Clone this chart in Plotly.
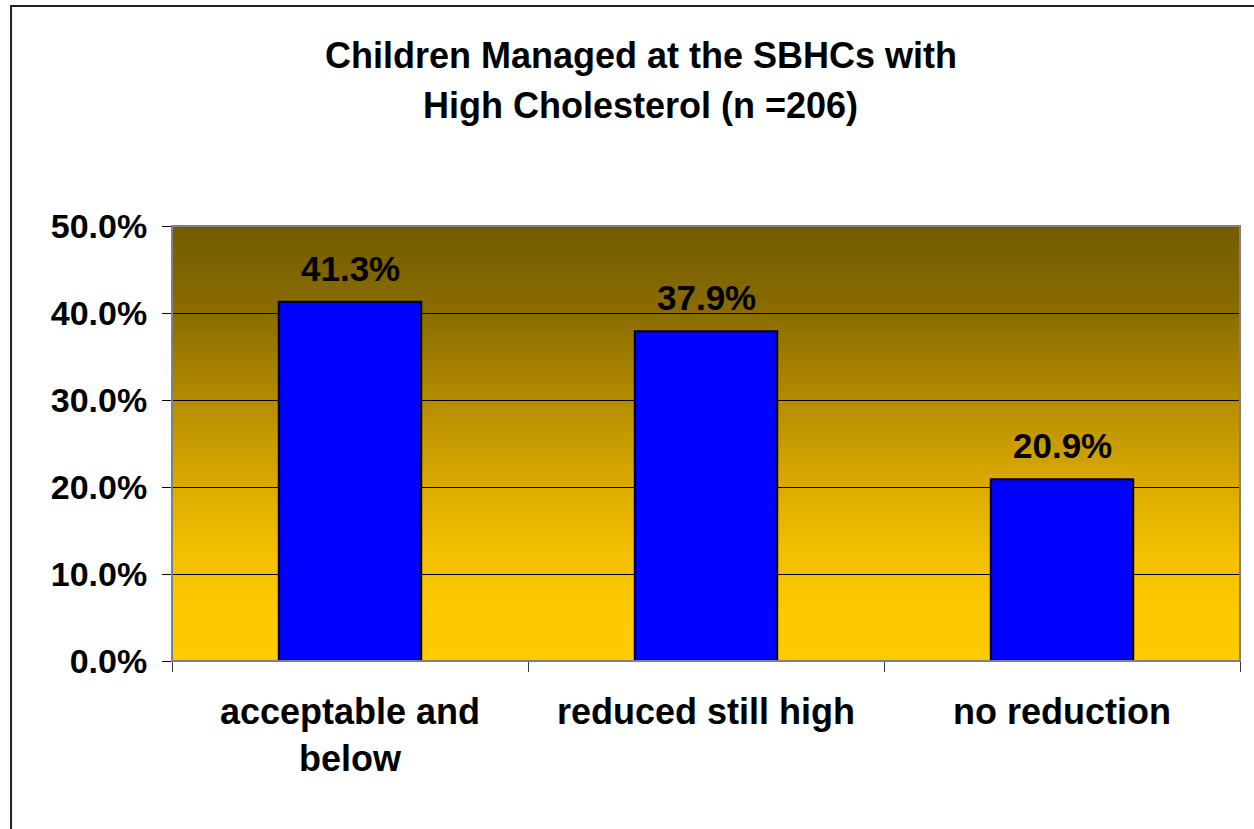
import plotly.graph_objects as go

# Chart data
categories = ["acceptable and<br>below", "reduced still high", "no reduction"]
shares = [41.3, 37.9, 20.9]  # percent of children (n = 206)
y_ticks = [0, 10, 20, 30, 40, 50]
y_tick_labels = ["0.0%", "10.0%", "20.0%", "30.0%", "40.0%", "50.0%"]
title_lines = ["Children Managed at the SBHCs with", "High Cholesterol (n =206)"]

FONT = "Liberation Sans, Arial, sans-serif"

# Vertical gradient for the plot background: (percent level, rgb)
grad_stops = [
    (0, (254, 202, 0)),
    (6, (252, 200, 0)),
    (12, (244, 192, 0)),
    (20, (220, 171, 0)),
    (30, (180, 140, 0)),
    (40, (138, 108, 0)),
    (50, (116, 92, 0)),
]


def grad_color(v):
    for (v0, c0), (v1, c1) in zip(grad_stops[:-1], grad_stops[1:]):
        if v0 <= v <= v1:
            t = (v - v0) / (v1 - v0)
            r, g, b = (round(a + (b_ - a) * t) for a, b_ in zip(c0, c1))
            return f"rgb({r},{g},{b})"
    return "rgb(%d,%d,%d)" % grad_stops[-1][1]


shapes = []
n_strips = 200
step = 50 / n_strips
for i in range(n_strips):
    y0 = i * step
    # strips overlap so that no seams show between them
    shapes.append(dict(
        type="rect", xref="x domain", yref="y",
        x0=0, x1=1, y0=y0, y1=min(50, y0 + step * 4),
        fillcolor=grad_color(y0 + step / 2), line_width=0, layer="below",
    ))

# Gray border of the plot area
shapes.append(dict(type="rect", xref="paper", yref="paper", x0=0, x1=1, y0=0, y1=1,
                   line=dict(color="#808080", width=2), layer="above"))
# Outer chart frame
shapes.append(dict(type="rect", xref="paper", yref="paper",
                   x0=-0.1507, x1=1.2, y0=-0.6, y1=1.5057,
                   line=dict(color="#222222", width=2), layer="above"))

fig = go.Figure(go.Bar(
    x=categories, y=shares, width=0.4,
    marker=dict(color="#0000FF", line=dict(color="#000000", width=2)),
))

bold = dict(family=FONT, size=34, color="#000000", weight="bold")
bold_big = dict(bold, size=36)

# Value labels above each bar
annotations = [
    dict(x=c, y=v, text=f"{v:.1f}%", showarrow=False, xref="x", yref="y",
         yanchor="bottom", yshift=12, font=dict(bold, size=35))
    for c, v in zip(categories, shares)
]
# Two-line chart title
for line, ty in zip(title_lines, [1.393, 1.276]):
    annotations.append(dict(x=0.439, y=ty, xref="paper", yref="paper",
                            text=line, showarrow=False, xanchor="center",
                            yanchor="middle", font=bold_big))

fig.update_layout(
    width=1254, height=829,
    margin=dict(l=172, r=14, t=226, b=168),
    paper_bgcolor="#FFFFFF", plot_bgcolor="#FFC800",
    showlegend=False,
    shapes=shapes,
    annotations=annotations,
    font=bold,
)

fig.update_xaxes(
    tickson="boundaries", ticks="outside", ticklen=10, tickcolor="#333333",
    showgrid=False, showline=False, ticklabelstandoff=26,
    tickfont=bold_big,
)
fig.update_yaxes(
    range=[0, 50], tickvals=y_ticks, ticktext=y_tick_labels,
    ticks="outside", ticklen=9, tickcolor="#000000",
    showline=True, linecolor="#000000", linewidth=1,
    showgrid=True, gridcolor="#000000", gridwidth=1,
    zeroline=False, ticklabelstandoff=8,
    tickfont=bold,
)

fig.write_html("out.html")
